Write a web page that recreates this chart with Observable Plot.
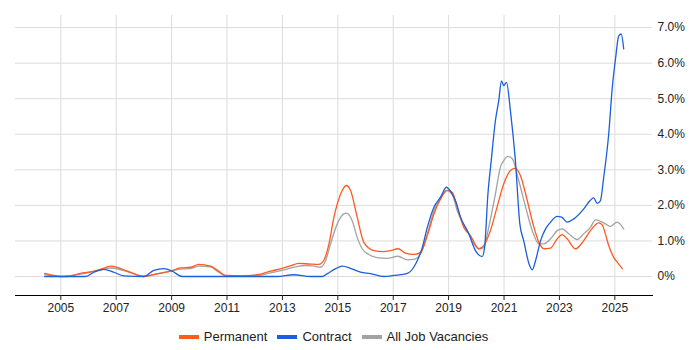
<!DOCTYPE html>
<html>
<head>
<meta charset="utf-8">
<script src="https://cdn.jsdelivr.net/npm/d3@7"></script>
<script src="https://cdn.jsdelivr.net/npm/@observablehq/plot@0.6"></script>
<style>
  html, body { margin: 0; padding: 0; background: #fff; }
  body { width: 700px; height: 350px; overflow: hidden; font-family: "Liberation Sans", Arial, sans-serif; }
  #legend { margin-left: 15px; width: 637px; height: 30px; padding-top: 4px; box-sizing: border-box;
            display: flex; justify-content: center; align-items: center; font-size: 13px; line-height: 16px; color: #222; }
  .item { display: flex; align-items: center; margin: 0 5px; }
  .sw { width: 20px; height: 4px; margin-right: 5px; }
</style>
</head>
<body>
<div id="chart"></div>
<div id="legend"></div>
<script>
// Decimal years and percentages
const permanentYears = [2004.42,2004.74,2004.99,2005.23,2005.71,2006.07,2006.43,2006.79,2007.04,2007.4,2007.7,2008.0,2008.48,2008.96,2009.32,2009.68,2009.98,2010.4,2010.7,2010.95,2011.61,2012.09,2012.57,2012.99,2013.29,2013.59,2014.01,2014.31,2014.49,2014.68,2014.86,2014.98,2015.16,2015.3,2015.46,2015.7,2015.94,2016.3,2016.66,2016.9,2017.17,2017.44,2017.74,2017.99,2018.23,2018.47,2018.71,2018.95,2019.13,2019.31,2019.55,2019.79,2020.09,2020.27,2020.51,2020.75,2020.99,2021.23,2021.41,2021.59,2021.84,2022.08,2022.26,2022.44,2022.68,2022.92,2023.1,2023.28,2023.58,2023.88,2024.12,2024.42,2024.54,2024.66,2024.78,2024.96,2025.09,2025.27];
const permanentValues = [0.09,0.03,0.0,0.0,0.09,0.13,0.2,0.29,0.26,0.15,0.06,0.0,0.08,0.15,0.24,0.26,0.34,0.29,0.15,0.03,0.02,0.05,0.15,0.23,0.3,0.37,0.35,0.34,0.45,0.92,1.67,2.04,2.42,2.56,2.42,1.67,0.96,0.73,0.70,0.73,0.78,0.66,0.62,0.68,1.15,1.76,2.18,2.42,2.37,1.95,1.38,1.15,0.78,0.87,1.29,1.95,2.6,2.98,3.05,2.84,2.13,1.38,0.96,0.78,0.8,1.06,1.18,1.06,0.78,1.01,1.29,1.51,1.46,1.2,0.87,0.54,0.4,0.22];

const contractYears = [2004.42,2005.89,2006.19,2006.55,2006.91,2007.27,2008.0,2008.36,2008.72,2009.02,2009.38,2012.81,2013.41,2014.01,2014.44,2014.62,2014.92,2015.16,2015.46,2015.82,2016.18,2016.66,2017.02,2017.51,2017.74,2017.87,2018.05,2018.23,2018.47,2018.71,2018.92,2019.13,2019.25,2019.43,2019.73,2019.97,2020.21,2020.3,2020.42,2020.54,2020.69,2020.81,2020.91,2020.99,2021.09,2021.23,2021.41,2021.57,2021.71,2021.9,2022.02,2022.14,2022.32,2022.5,2022.68,2022.92,2023.08,2023.28,2023.52,2023.88,2024.1,2024.24,2024.36,2024.48,2024.6,2024.78,2024.91,2025.03,2025.14,2025.23,2025.32];
const contractValues = [0,0,0.12,0.2,0.12,0.02,0,0.17,0.22,0.15,0,0,0.05,0,0,0.08,0.22,0.29,0.23,0.12,0.08,0.0,0.03,0.09,0.26,0.45,0.82,1.38,1.95,2.23,2.51,2.32,2.13,1.67,1.2,0.73,0.56,0.82,2.32,3.26,4.38,4.94,5.5,5.37,5.46,4.66,3.26,1.48,1.01,0.36,0.19,0.45,1.01,1.34,1.53,1.69,1.67,1.53,1.62,1.9,2.13,2.21,2.06,2.13,2.79,4.0,5.32,6.16,6.77,6.82,6.40];

const allYears = [2004.42,2004.99,2005.71,2006.43,2006.79,2007.4,2008.0,2008.48,2008.96,2009.32,2009.68,2009.98,2010.4,2010.7,2010.95,2012.09,2012.57,2012.99,2013.47,2013.83,2014.09,2014.38,2014.56,2014.74,2014.98,2015.22,2015.31,2015.52,2015.7,2015.88,2016.12,2016.42,2016.78,2017.17,2017.51,2017.74,2017.99,2018.23,2018.47,2018.71,2018.92,2019.13,2019.31,2019.67,2020.09,2020.27,2020.45,2020.69,2020.87,2020.99,2021.14,2021.3,2021.53,2021.78,2022.02,2022.26,2022.44,2022.68,2022.92,2023.1,2023.34,2023.64,2023.88,2024.12,2024.3,2024.6,2024.84,2025.08,2025.32];
const allValues = [0.05,0.0,0.07,0.18,0.24,0.14,0.01,0.07,0.15,0.21,0.22,0.29,0.27,0.12,0.02,0.03,0.1,0.17,0.27,0.31,0.3,0.26,0.45,0.92,1.48,1.76,1.78,1.57,1.1,0.78,0.62,0.53,0.51,0.57,0.47,0.48,0.64,1.2,1.85,2.2,2.42,2.3,1.85,1.29,0.78,0.82,1.38,2.32,3.07,3.26,3.38,3.31,2.7,1.95,1.29,0.92,0.92,1.06,1.29,1.34,1.2,1.04,1.2,1.38,1.59,1.51,1.41,1.53,1.34];

const seriesNames = ["Permanent", "Contract", "All Job Vacancies"];
const seriesColors = ["#ff5a1f", "#1a5fdc", "#a3a3a3"];
const yearTicks = [2005,2007,2009,2011,2013,2015,2017,2019,2021,2023,2025];
const percentTicks = [0,1,2,3,4,5,6,7];

function toDate(y) {
  const y0 = Math.floor(y);
  return new Date(Date.UTC(y0, 0, 1) + (y - y0) * 365.25 * 864e5);
}

const rows = [];
[[permanentYears, permanentValues, seriesNames[0]],
 [contractYears, contractValues, seriesNames[1]],
 [allYears, allValues, seriesNames[2]]].forEach(([ys, vs, name]) => {
  ys.forEach((y, i) => rows.push({date: toDate(y), value: vs[i], series: name}));
});

const xTickDates = yearTicks.map(y => new Date(Date.UTC(y, 0, 1)));
const fmtPct = d => d === 0 ? "0%" : d.toFixed(1) + "%";
const font = '"Liberation Sans", Arial, sans-serif';

const chart = Plot.plot({
  width: 700,
  height: 320,
  marginLeft: 15,
  marginRight: 48,
  marginTop: 15,
  marginBottom: 25,
  style: {fontFamily: font, fontSize: "12px", color: "#222", background: "#fff"},
  x: {type: "utc", domain: [toDate(2003.365), toDate(2026.36)]},
  y: {domain: [-0.534, 7.34]},
  color: {domain: seriesNames, range: seriesColors},
  marks: [
    Plot.gridX(xTickDates, {stroke: "#dcdcdc", strokeOpacity: 1}),
    Plot.gridY(percentTicks, {stroke: "#dcdcdc", strokeOpacity: 1}),
    Plot.frame({anchor: "bottom", stroke: "#000", strokeWidth: 1}),
    Plot.axisX(xTickDates, {tickSize: 5, tickPadding: 3, tickFormat: d3.utcFormat("%Y"), label: null, fontSize: 12}),
    Plot.axisY(percentTicks, {anchor: "right", tickSize: 0, tickPadding: 5, tickFormat: fmtPct, label: null, fontSize: 12}),
    Plot.line(rows.filter(d => d.series === seriesNames[2]), {x: "date", y: "value", stroke: seriesColors[2], strokeWidth: 1.3, curve: "monotone-x"}),
    Plot.line(rows.filter(d => d.series === seriesNames[0]), {x: "date", y: "value", stroke: seriesColors[0], strokeWidth: 1.3, curve: "monotone-x"}),
    Plot.line(rows.filter(d => d.series === seriesNames[1]), {x: "date", y: "value", stroke: seriesColors[1], strokeWidth: 1.3, curve: "monotone-x"})
  ]
});
document.getElementById("chart").appendChild(chart);

const legend = document.getElementById("legend");
seriesNames.forEach((name, i) => {
  const item = document.createElement("div");
  item.className = "item";
  const sw = document.createElement("span");
  sw.className = "sw";
  sw.style.background = seriesColors[i];
  const label = document.createElement("span");
  label.textContent = name;
  item.appendChild(sw);
  item.appendChild(label);
  legend.appendChild(item);
});
</script>
</body>
</html>
